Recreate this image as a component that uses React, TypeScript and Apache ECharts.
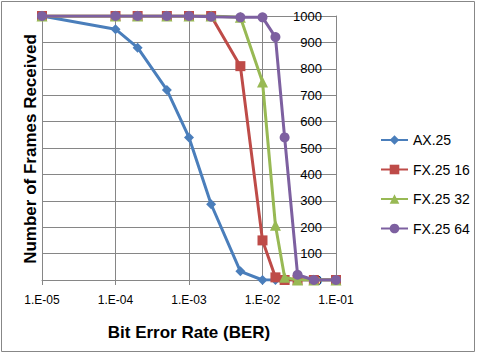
import React, { useEffect, useRef } from "react";
import * as echarts from "echarts";

const berValues = [1e-5, 1e-4, 2e-4, 5e-4, 1e-3, 2e-3, 5e-3, 1e-2, 1.5e-2, 2e-2, 3e-2, 5e-2, 1e-1];
const ax25 = [1000, 950, 880, 720, 540, 287, 33, 0, 0, 0, 0, 0, 0];
const fx16 = [1000, 1000, 1000, 1000, 1000, 1000, 810, 150, 10, 0, 0, 0, 0];
const fx32 = [1000, 1000, 1000, 1000, 1000, 1000, 995, 750, 207, 10, 0, 0, 0];
const fx64 = [1000, 1000, 1000, 1000, 1000, 997, 995, 995, 920, 540, 20, 0, 0];
const xTickLabels = ["1.E-05", "1.E-04", "1.E-03", "1.E-02", "1.E-01"];
const seriesNames = ["AX.25", "FX.25 16", "FX.25 32", "FX.25 64"];

const FONT = "Liberation Sans, Arial, sans-serif";

export default function App() {
  const ref = useRef<HTMLDivElement>(null);
  useEffect(() => {
    document.body.style.margin = "0";
    const chart = echarts.init(ref.current!, null, { renderer: "svg" });
    const pair = (ys: number[]) => berValues.map((x, i) => [x, ys[i]]);
    const colors = ["#4A7EBB", "#BE4B48", "#98B954", "#7D60A0"];
    const symbols = ["diamond", "rect", "triangle", "circle"];
    const sizes = [10, 10, 11, 10];
    const datas = [ax25, fx16, fx32, fx64];
    chart.setOption({
      animation: false,
      backgroundColor: "#fff",
      textStyle: { fontFamily: FONT },
      graphic: [
        {
          type: "rect",
          shape: { x: 1.5, y: 1.5, width: 473, height: 350 },
          style: { fill: "none", stroke: "#878787", lineWidth: 1 },
          silent: true,
        },
        {
          type: "text",
          x: 30,
          y: 149,
          rotation: Math.PI / 2,
          silent: true,
          style: {
            text: "Number of Frames Received",
            align: "center",
            verticalAlign: "middle",
            fontFamily: FONT,
            fontWeight: "bold",
            fontSize: 17,
            fill: "#000",
          },
        },
      ],
      grid: { left: 42, right: 141, top: 16, bottom: 76 },
      legend: {
        orient: "vertical",
        left: 375,
        top: 128,
        itemWidth: 27,
        itemHeight: 12,
        itemGap: 15.5,
        textStyle: { fontSize: 14, color: "#000", fontFamily: FONT },
        data: seriesNames,
      },
      xAxis: {
        type: "log",
        logBase: 10,
        min: 1e-5,
        max: 1e-1,
        name: "Bit Error Rate (BER)",
        nameLocation: "middle",
        nameGap: 44,
        nameTextStyle: { fontSize: 17, fontWeight: "bold", color: "#000", fontFamily: FONT },
        axisLine: { show: true, lineStyle: { color: "#868686", width: 1 } },
        axisTick: { show: true, length: 5, lineStyle: { color: "#868686" } },
        axisLabel: {
          fontSize: 12,
          color: "#000",
          margin: 14,
          formatter: (v: number) => {
            const idx = Math.round(Math.log10(v)) + 5;
            return xTickLabels[idx] ?? "";
          },
        },
        splitLine: { show: true, lineStyle: { color: "#868686", width: 1 } },
        minorTick: { show: false },
      },
      yAxis: {
        type: "value",
        position: "right",
        min: 0,
        max: 1000,
        interval: 100,
        axisLine: { show: true, lineStyle: { color: "#868686", width: 1 } },
        axisTick: { show: false },
        axisLabel: {
          inside: true,
          fontSize: 13,
          color: "#000",
          margin: 14,
          fontFamily: FONT,
          formatter: (v: number) => String(v),
        },
        splitLine: { show: true, lineStyle: { color: "#868686", width: 1 } },
      },
      series: datas.map((d, i) => ({
        name: seriesNames[i],
        type: "line",
        data: pair(d),
        color: colors[i],
        symbol: symbols[i],
        symbolSize: sizes[i],
        showAllSymbol: true,
        lineStyle: { width: 3, color: colors[i] },
        itemStyle: { color: colors[i] },
        z: 2 + i,
      })),
    });
    return () => chart.dispose();
  }, []);
  return <div ref={ref} style={{ width: 477, height: 356 }} />;
}
